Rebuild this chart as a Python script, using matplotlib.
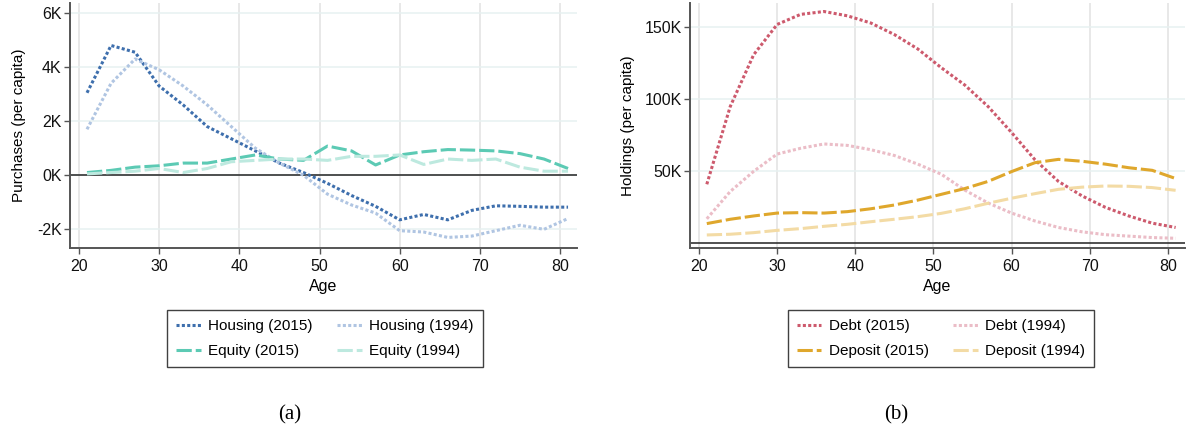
import matplotlib
matplotlib.use("Agg")
import matplotlib.pyplot as plt
from matplotlib.ticker import FuncFormatter, FixedLocator

plt.rcParams['font.family'] = ['Liberation Sans', 'DejaVu Sans']

ages = [21, 24, 27, 30, 33, 36, 39, 42, 45, 48, 51, 54, 57, 60, 63, 66, 69, 72, 75, 78, 81]

housing_2015 = [3.05, 4.8, 4.55, 3.3, 2.6, 1.8, 1.35, 0.9, 0.45, 0.1, -0.3, -0.75, -1.15, -1.65,
                -1.45, -1.65, -1.3, -1.13, -1.15, -1.18, -1.18]
housing_1994 = [1.7, 3.4, 4.3, 3.9, 3.3, 2.6, 1.8, 1.0, 0.45, 0.0, -0.7, -1.1, -1.4, -2.05,
                -2.1, -2.3, -2.25, -2.05, -1.85, -2.0, -1.6]
equity_2015 = [0.1, 0.18, 0.3, 0.35, 0.45, 0.45, 0.6, 0.75, 0.6, 0.55, 1.08, 0.9, 0.38, 0.75,
               0.87, 0.95, 0.93, 0.9, 0.8, 0.6, 0.25]
equity_1994 = [0.05, 0.1, 0.15, 0.25, 0.1, 0.25, 0.5, 0.55, 0.6, 0.6, 0.55, 0.7, 0.7, 0.75,
               0.4, 0.6, 0.55, 0.6, 0.3, 0.15, 0.15]

debt_2015 = [41, 95, 131, 152, 159, 161, 158, 153, 145, 135, 122, 110, 95, 77, 58, 43, 33, 25, 19, 14, 11]
debt_1994 = [17, 36, 50, 62, 66, 69, 68, 65, 61, 55, 48, 37, 28, 21, 15.5, 11, 8, 6, 5, 4, 3.5]
deposit_2015 = [13.7, 16.7, 19, 21, 21.3, 21, 22, 24, 26.6, 30, 34, 38, 43, 49.8, 56, 58.3, 57, 55,
                52.5, 50.7, 45]
deposit_1994 = [5.8, 6.3, 7.4, 9, 10.2, 11.8, 13.2, 15, 16.7, 18.5, 20.8, 24, 27.8, 31.3, 34.5, 37.5,
                39, 39.8, 39.6, 38.7, 36.8]

x_ticks = [20, 30, 40, 50, 60, 70, 80]
left_yticks = [-2, 0, 2, 4, 6]
right_yticks = [50, 100, 150]

W, H = 1187, 441
fig = plt.figure(figsize=(W / 100, H / 100), dpi=100)

ax_top, ax_bot = 3.3, 247.7
ax1 = fig.add_axes([70 / W, 1 - ax_bot / H, 506.7 / W, (ax_bot - ax_top) / H])
ax2 = fig.add_axes([690 / W, 1 - ax_bot / H, 495 / W, (ax_bot - ax_top) / H])

lw = 2.2
dot = (0, (1, 0.75))
dash = (0, (5, 1.3))

c_h15, c_h94 = '#3e6fad', '#b0c5e2'
c_e15, c_e94 = '#5ccab4', '#bde9df'
c_d15, c_d94 = '#cd5a6d', '#ebbdc7'
c_p15, c_p94 = '#dfa72c', '#f3dba5'

l1, = ax1.plot(ages, housing_2015, color=c_h15, ls=dot, lw=lw, label='Housing (2015)')
l2, = ax1.plot(ages, housing_1994, color=c_h94, ls=dot, lw=lw, label='Housing (1994)')
l3, = ax1.plot(ages, equity_2015, color=c_e15, ls=dash, lw=lw, label='Equity (2015)')
l4, = ax1.plot(ages, equity_1994, color=c_e94, ls=dash, lw=lw, label='Equity (1994)')

r1, = ax2.plot(ages, debt_2015, color=c_d15, ls=dot, lw=lw, label='Debt (2015)')
r2, = ax2.plot(ages, debt_1994, color=c_d94, ls=dot, lw=lw, label='Debt (1994)')
r3, = ax2.plot(ages, deposit_2015, color=c_p15, ls=dash, lw=lw, label='Deposit (2015)')
r4, = ax2.plot(ages, deposit_1994, color=c_p94, ls=dash, lw=lw, label='Deposit (1994)')

ax1.set_ylim(-2.68, 6.36)
ax1.set_xlim(18.88, 82.08)
ax2.set_ylim(-3.05, 166.7)
ax2.set_xlim(18.85, 82.2)
for ax in (ax1, ax2):
    ax.xaxis.set_major_locator(FixedLocator(x_ticks))
    ax.axhline(0, color='#222222', lw=1.1, zorder=1)
    ax.grid(axis='x', color='#e2e2e2', lw=1.1, zorder=0)
    ax.grid(axis='y', color='#e7f1f1', lw=1.1, zorder=0)
    ax.set_axisbelow(True)
    for s in ('top', 'right'):
        ax.spines[s].set_visible(False)
    for s in ('left', 'bottom'):
        ax.spines[s].set_color('#555555')
        ax.spines[s].set_linewidth(1.4)
    ax.tick_params(axis='both', labelsize=11.5, colors='#111111', length=4.5, width=1.0)
    ax.tick_params(axis='y', pad=1.5, color='#555555')
    ax.tick_params(axis='x', pad=3.5, color='#555555')
    ax.set_xlabel('Age', fontsize=11.5, labelpad=4)

ax1.yaxis.set_major_locator(FixedLocator(left_yticks))
ax1.yaxis.set_major_formatter(FuncFormatter(lambda v, p: f"{int(round(v))}K"))
ax2.yaxis.set_major_locator(FixedLocator(right_yticks))
ax2.yaxis.set_major_formatter(FuncFormatter(lambda v, p: f"{int(round(v))}K"))
ax1.set_ylabel('Purchases (per capita)', fontsize=11, labelpad=8)
ax2.set_ylabel('Holdings (per capita)', fontsize=11, labelpad=7)

legkw = dict(ncol=2, frameon=True, fancybox=False, fontsize=11, handlelength=1.6,
             handletextpad=0.5, columnspacing=1.6, borderpad=0.6, labelspacing=0.7,
             borderaxespad=0, loc='center')
lg1 = fig.legend([l1, l3, l2, l4], [l1.get_label(), l3.get_label(), l2.get_label(), l4.get_label()],
                 bbox_to_anchor=(325 / W, 1 - 338.5 / H), **legkw)
lg2 = fig.legend([r1, r3, r2, r4], [r1.get_label(), r3.get_label(), r2.get_label(), r4.get_label()],
                 bbox_to_anchor=(941 / W, 1 - 338.5 / H), **legkw)
for lg in (lg1, lg2):
    lg.get_frame().set_edgecolor('#111111')
    lg.get_frame().set_linewidth(1.0)

fig.text(290 / W, 1 - 415 / H, '(a)', fontsize=15, family=['Liberation Serif', 'DejaVu Serif'],
         ha='center', va='center')
fig.text(896 / W, 1 - 415 / H, '(b)', fontsize=15, family=['Liberation Serif', 'DejaVu Serif'],
         ha='center', va='center')

fig.savefig('out.png', dpi=100)
